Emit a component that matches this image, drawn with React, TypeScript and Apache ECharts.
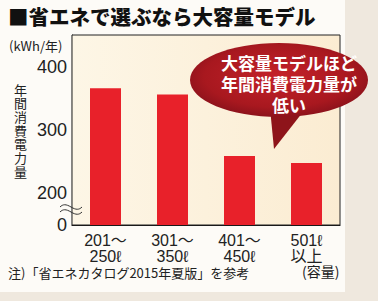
import React, { useEffect, useRef } from "react";
import * as echarts from "echarts";

const categories = ["201～\n250ℓ", "301～\n350ℓ", "401～\n450ℓ", "501ℓ\n以上"];
const values = [366, 356, 259, 248];
const yLabels: Record<number, string> = { 150: "0", 200: "200", 300: "300", 400: "400" };

const title = "■省エネで選ぶなら大容量モデル";
const unitLabel = "(kWh/年)";
const yTitle = "年間消費電力量";
const bubbleLines = ["大容量モデルほど", "年間消費電力量が", "低い"];
const note = "注)「省エネカタログ2015年夏版」を参考";
const xUnit = "(容量)";

const JP = "'Noto Sans CJK JP', sans-serif";
const NUM = "'Liberation Sans', 'Noto Sans CJK JP', sans-serif";

echarts.graphic.registerShape(
  "breakMark",
  echarts.graphic.extendPath(
    "M0,3 C3,0 6,0 11,3 C16,6 19,6 22,3 M0,8 C3,5 6,5 11,8 C16,11 19,11 22,8",
    {}
  ) as any
);

export default function App() {
  const ref = useRef<HTMLDivElement>(null);
  useEffect(() => {
    if (!ref.current) return;
    const chart = echarts.init(ref.current, undefined, { renderer: "svg" });
    const yTitleChars = yTitle.split("").map((ch, i) => ({
      type: "text",
      x: 20.5,
      y: 89 + i * 13.7,
      style: {
        text: ch,
        fontSize: 13,
        lineHeight: 13,
        fontFamily: JP,
        fill: "#222",
        align: "center",
        verticalAlign: "middle",
      },
    }));
    const bubbleText = bubbleLines.map((line, i) => ({
      type: "text",
      x: 289,
      y: 62 + i * 21,
      z: 52,
      style: {
        text: line,
        fontSize: 17,
        fontWeight: "bold",
        fontFamily: JP,
        fill: "#fff",
        align: "center",
        verticalAlign: "middle",
      },
    }));
    chart.setOption({
      animation: false,
      backgroundColor: "#efe8de",
      grid: {
        left: 72,
        right: 38,
        top: 35,
        bottom: 76,
        show: true,
        borderColor: "#222",
        borderWidth: 1,
        backgroundColor: new echarts.graphic.LinearGradient(0, 0, 1, 0, [
          { offset: 0, color: "#fdf6e6" },
          { offset: 1, color: "#fbecd2" },
        ]),
        z: 1,
      },
      xAxis: {
        type: "category",
        data: categories,
        axisLine: { lineStyle: { color: "#111", width: 1.2 } },
        axisTick: { show: false },
        axisLabel: {
          color: "#222",
          fontSize: 16,
          lineHeight: 16,
          fontFamily: NUM,
          margin: 7,
          interval: 0,
        },
      },
      yAxis: {
        type: "value",
        min: 150,
        max: 450,
        interval: 50,
        axisLine: { show: true, lineStyle: { color: "#111", width: 1.2 } },
        axisTick: { show: false },
        splitLine: { lineStyle: { color: "#8b7b6b", width: 1 } },
        axisLabel: {
          color: "#222",
          fontSize: 18,
          fontFamily: NUM,
          margin: 5,
          formatter: (v: number) => yLabels[v] ?? "",
        },
      },
      series: [
        {
          type: "bar",
          data: values,
          barWidth: 31,
          itemStyle: { color: "#e8212a" },
          z: 3,
        },
      ],
      graphic: [
        {
          type: "rect",
          shape: { x: 0, y: 0, width: 345, height: 292 },
          style: { fill: "#fdfbf7" },
          z: -10,
          silent: true,
        },
        {
          type: "text",
          x: 8,
          y: 6,
          style: {
            text: title,
            fontSize: 20.5,
            fontWeight: 900,
            fontFamily: JP,
            fill: "#111",
          },
        },
        {
          type: "text",
          x: 9,
          y: 39,
          style: { text: unitLabel, fontSize: 13, fontFamily: JP, fill: "#222" },
        },
        ...yTitleChars,
        {
          type: "breakMark",
          x: 60,
          y: 204,
          style: { fill: "none", stroke: "#333", lineWidth: 1 },
          z: 20,
        },
        {
          type: "text",
          x: 8,
          y: 266,
          style: { text: note, fontSize: 13, fontFamily: JP, fill: "#222" },
        },
        {
          type: "text",
          x: 302,
          y: 264,
          style: { text: xUnit, fontSize: 14, fontFamily: JP, fill: "#222" },
        },
        {
          type: "polygon",
          z: 50,
          shape: { points: [[270, 108], [306, 108], [274, 149]] },
          style: { fill: "#8e141a" },
        },
        {
          type: "ellipse",
          z: 51,
          shape: { cx: 279, cy: 80, rx: 89, ry: 37 },
          style: {
            fill: new echarts.graphic.RadialGradient(0.5, 0.45, 0.6, [
              { offset: 0, color: "#c4222a" },
              { offset: 0.7, color: "#a8181f" },
              { offset: 1, color: "#82101a" },
            ]),
          },
        },
        ...bubbleText,
      ],
    });
    return () => chart.dispose();
  }, []);
  return (
    <div
      ref={ref}
      style={{ position: "fixed", left: 0, top: 0, width: 378, height: 301 }}
    />
  );
}
